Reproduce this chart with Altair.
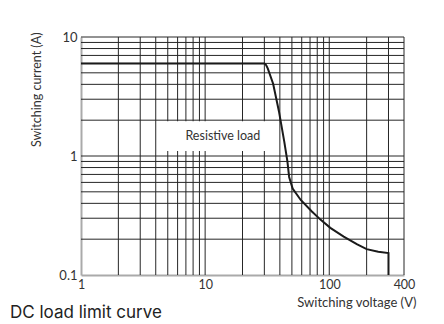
import altair as alt
import pandas as pd

# Grid line positions (log scale minor/major lines)
x_grid = [2, 3, 4, 5, 6, 7, 8, 9, 10, 20, 30, 40, 50, 60, 70, 80, 90, 100, 200, 300, 400]
y_grid = [0.2, 0.3, 0.4, 0.5, 0.6, 0.7, 0.8, 0.9, 1, 2, 3, 4, 5, 6, 7, 8, 9, 10]

# Tick labels
x_ticks = [1, 10, 100, 400]
y_ticks = [0.1, 1, 10]

# DC load limit curve (resistive load)
voltage = [1, 30, 31, 32, 35.3, 39.3, 43.4, 46, 47.5, 50.7, 58.9, 72.1, 84.9, 102, 130.7, 168, 200, 248, 300, 300]
current = [6, 6, 5.8, 5.43, 4.05, 2.38, 1.32, 0.9, 0.667, 0.533, 0.427, 0.343, 0.292, 0.249, 0.21, 0.181, 0.165, 0.157, 0.153, 0.1]

# Annotation
label_text = ["Resistive load"]
label_x = [13.9]
label_y = [1.48]
box_x = [4.8]
box_x2 = [35]
box_y = [1.1]
box_y2 = [1.96]

xs = alt.Scale(type="log", domain=[1, 400], nice=False)
ys = alt.Scale(type="log", domain=[0.1, 10], nice=False)

x_axis = alt.Axis(
    values=x_ticks, format="~g", grid=False, ticks=False, tickSize=0,
    labelPadding=3, labelFontSize=12.5, labelFont="Lato", labelColor="#333",
    title="Switching voltage (V)", titleFont="Lato", titleFontSize=13,
    titleFontWeight="normal", titleColor="#333",
    titleAlign="right", titleBaseline="middle", titleX=335, titleY=27,
    domainColor="#aaaaaa", domainWidth=2, labelFlush=False,
)
y_axis = alt.Axis(
    values=y_ticks, format="~g", grid=False, ticks=False, tickSize=0,
    labelPadding=4, labelFontSize=13, labelFont="Lato", labelColor="#333",
    title="Switching current (A)", titleFont="Lato", titleFontSize=12.5,
    titleFontWeight="normal", titleColor="#333",
    titleAngle=270, titleAlign="right", titleBaseline="middle",
    titleX=-45, titleY=-5,
    domainColor="#aaaaaa", domainWidth=2, labelFlush=False,
)

grid_color = "#262626"

vgrid = alt.Chart(pd.DataFrame({"v": x_grid})).mark_rule(
    color=grid_color, strokeWidth=1
).encode(x=alt.X("v:Q", scale=xs, axis=x_axis))

hgrid = alt.Chart(pd.DataFrame({"c": y_grid})).mark_rule(
    color=grid_color, strokeWidth=1
).encode(y=alt.Y("c:Q", scale=ys, axis=y_axis))

box = alt.Chart(pd.DataFrame({"v": box_x, "x2": box_x2, "c": box_y, "y2": box_y2})).mark_rect(
    color="white"
).encode(
    x=alt.X("v:Q", scale=xs, axis=x_axis), x2="x2:Q",
    y=alt.Y("c:Q", scale=ys, axis=y_axis), y2="y2:Q",
)

label = alt.Chart(pd.DataFrame({"t": label_text, "v": label_x, "c": label_y})).mark_text(
    font="Lato", fontSize=12.5, color="#333", align="center", baseline="middle"
).encode(
    x=alt.X("v:Q", scale=xs, axis=x_axis),
    y=alt.Y("c:Q", scale=ys, axis=y_axis),
    text="t:N",
)

curve_df = pd.DataFrame({"v": voltage, "c": current, "i": list(range(len(voltage)))})
curve = alt.Chart(curve_df).mark_line(color="#1a1a1a", strokeWidth=2).encode(
    x=alt.X("v:Q", scale=xs, axis=x_axis),
    y=alt.Y("c:Q", scale=ys, axis=y_axis),
    order=alt.Order("i:Q"),
)

chart = alt.layer(vgrid, hgrid, box, label, curve).properties(
    width=323,
    height=238,
    autosize=alt.AutoSizeParams(type="none"),
    padding={"left": 73, "top": 29, "right": 30, "bottom": 49},
    title=alt.TitleParams(
        "DC load limit curve", orient="bottom", anchor="start", frame="group", dx=-71, dy=-4,
        font="Inter", fontSize=17, fontWeight="normal", color="#222", baseline="top", offset=0,
    ),
).configure_view(stroke=None)

chart.save("out.html", embed_options={"renderer": "svg", "actions": False})
